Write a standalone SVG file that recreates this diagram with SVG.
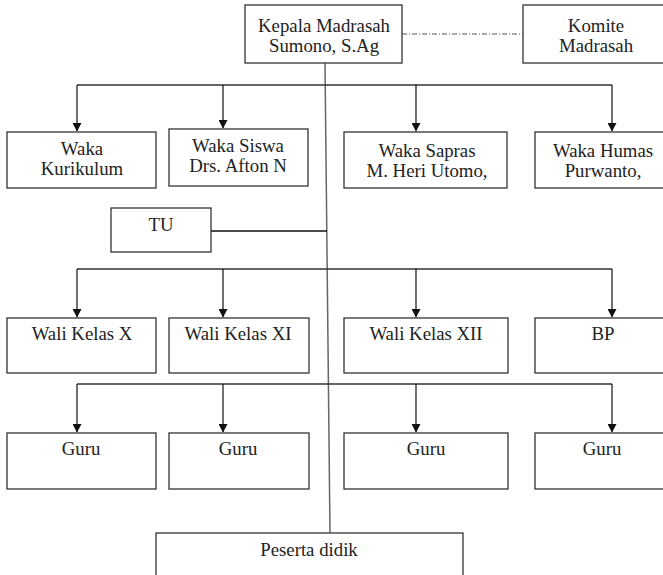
<svg xmlns="http://www.w3.org/2000/svg" width="663" height="575" viewBox="0 0 663 575">
<style>
.box{fill:#fff;stroke:#333;stroke-width:1.3}
.t{font-family:'Liberation Serif','DejaVu Serif',serif;font-size:18.8px;fill:#222;text-anchor:middle}
.ln{fill:none;stroke:#333;stroke-width:1.3}
.arr{fill:none;stroke:#111;stroke-width:1.2;marker-end:url(#ah)}
</style>
<defs>
<marker id="ah" markerWidth="9" markerHeight="9" refX="8" refY="4.5" orient="auto" markerUnits="userSpaceOnUse">
<path d="M0,0 L8.5,4.5 L0,9 Z" fill="#111"/>
</marker>
</defs>
<rect width="663" height="575" fill="#fff"/>
<g id="connectors">
<line class="ln" x1="325" y1="63" x2="330" y2="533" style="stroke:#666;stroke-width:1.5"/>
<line class="ln" x1="402" y1="34" x2="523" y2="34" style="stroke:#555;stroke-width:1;stroke-dasharray:5,2,1,2"/>
<polyline class="ln" points="77,85 612,85"/>
<line class="arr" x1="77" y1="85" x2="77" y2="131"/>
<line class="arr" x1="223" y1="85" x2="223" y2="128"/>
<line class="arr" x1="416" y1="85" x2="416" y2="131"/>
<line class="arr" x1="612" y1="85" x2="612" y2="131"/>
<line class="ln" x1="211" y1="231" x2="327" y2="231" style="stroke:#111"/>
<polyline class="ln" points="77,269 612,269"/>
<line class="arr" x1="77" y1="269" x2="77" y2="317"/>
<line class="arr" x1="223" y1="269" x2="223" y2="317"/>
<line class="arr" x1="416" y1="269" x2="416" y2="317"/>
<line class="arr" x1="612" y1="269" x2="612" y2="317"/>
<polyline class="ln" points="77,384 612,384"/>
<line class="arr" x1="77" y1="384" x2="77" y2="432"/>
<line class="arr" x1="223" y1="384" x2="223" y2="432"/>
<line class="arr" x1="416" y1="384" x2="416" y2="432"/>
<line class="arr" x1="612" y1="384" x2="612" y2="432"/>
</g>
<g font-family="Liberation Serif, DejaVu Serif, serif">
<g id="kepala"><rect class="box" x="245" y="5" width="157" height="58"/><text class="t" x="324" y="32">Kepala Madrasah</text><text class="t" x="324" y="52">Sumono, S.Ag</text></g>
<g id="komite"><rect class="box" x="523" y="5" width="146" height="58"/><text class="t" x="596" y="32">Komite</text><text class="t" x="596" y="52">Madrasah</text></g>
<g id="waka-kurikulum"><rect class="box" x="7" y="132" width="149" height="56"/><text class="t" x="82" y="155">Waka</text><text class="t" x="82" y="175">Kurikulum</text></g>
<g id="waka-siswa"><rect class="box" x="169" y="129" width="139" height="57"/><text class="t" x="238" y="152">Waka Siswa</text><text class="t" x="238" y="172">Drs. Afton N</text></g>
<g id="waka-sapras"><rect class="box" x="344" y="132" width="163" height="56"/><text class="t" x="427" y="157">Waka Sapras</text><text class="t" x="427" y="177">M. Heri Utomo,</text></g>
<g id="waka-humas"><rect class="box" x="535" y="132" width="134" height="56"/><text class="t" x="603" y="157">Waka Humas</text><text class="t" x="603" y="177">Purwanto,</text></g>
<g id="tu"><rect class="box" x="111" y="208" width="100" height="44"/><text class="t" x="161" y="231">TU</text></g>
<g id="wali-x"><rect class="box" x="7" y="318" width="149" height="55"/><text class="t" x="82" y="340">Wali Kelas X</text></g>
<g id="wali-xi"><rect class="box" x="169" y="318" width="140" height="55"/><text class="t" x="238" y="340">Wali Kelas XI</text></g>
<g id="wali-xii"><rect class="box" x="344" y="318" width="164" height="55"/><text class="t" x="426" y="340">Wali Kelas XII</text></g>
<g id="bp"><rect class="box" x="535" y="318" width="134" height="55"/><text class="t" x="603" y="340">BP</text></g>
<g id="guru-1"><rect class="box" x="7" y="433" width="149" height="56"/><text class="t" x="81" y="455">Guru</text></g>
<g id="guru-2"><rect class="box" x="169" y="433" width="140" height="56"/><text class="t" x="238" y="455">Guru</text></g>
<g id="guru-3"><rect class="box" x="344" y="433" width="164" height="56"/><text class="t" x="426" y="455">Guru</text></g>
<g id="guru-4"><rect class="box" x="535" y="433" width="134" height="56"/><text class="t" x="602" y="455">Guru</text></g>
<g id="peserta-didik"><rect class="box" x="156" y="533" width="307" height="60"/><text class="t" x="309" y="556">Peserta didik</text></g>
</g>
</svg>
